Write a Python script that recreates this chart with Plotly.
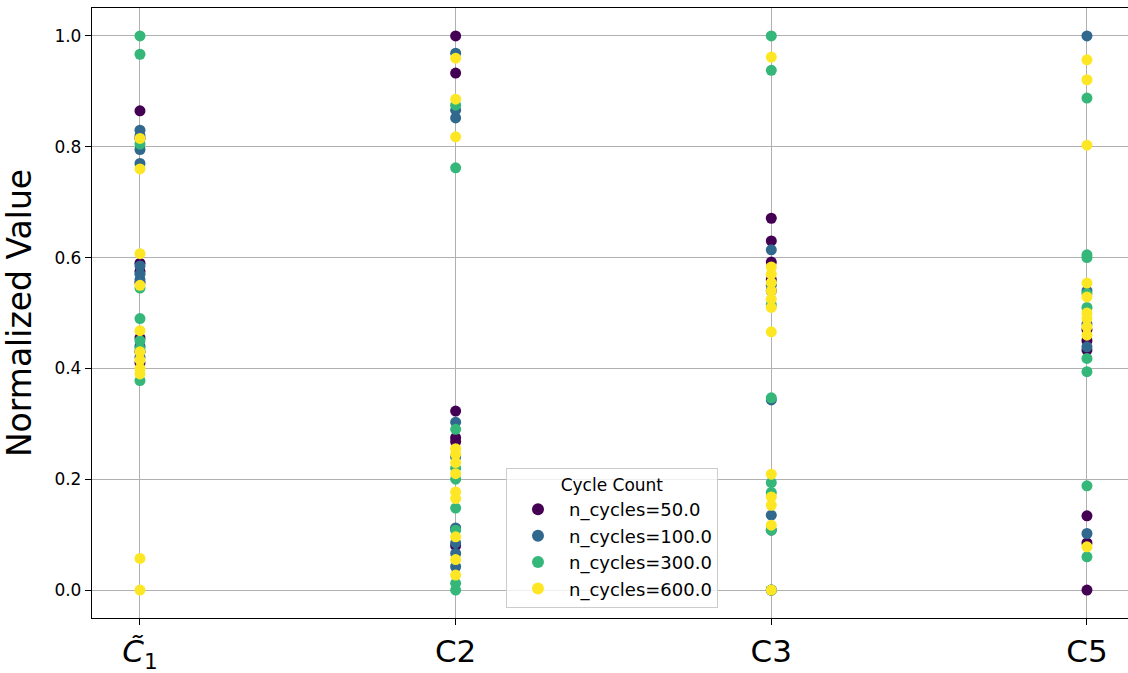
import plotly.graph_objects as go

# Metric categories along the x axis
categories = ["C̃1", "C2", "C3", "C5"]
tick_labels = ["<i>C̃</i><sub>1</sub>", "C2", "C3", "C5"]

# Normalized values per category, one list of lists per cycle count
cycles_50 = [
    [0.865, 0.815, 0.59, 0.575, 0.555, 0.455, 0.43, 0.41],
    [1.0, 0.933, 0.323, 0.275, 0.268, 0.11, 0.08],
    [0.671, 0.63, 0.592, 0.56, 0.54, 0.0],
    [0.47, 0.45, 0.433, 0.134, 0.085, 0.0],
]
cycles_100 = [
    [0.83, 0.82, 0.795, 0.77, 0.585, 0.57, 0.56, 0.44, 0.42],
    [0.969, 0.866, 0.852, 0.303, 0.24, 0.112, 0.085, 0.066, 0.042],
    [0.614, 0.55, 0.343, 0.135, 0.108, 0.0],
    [1.0, 0.54, 0.48, 0.439, 0.102],
]
cycles_300 = [
    [1.0, 0.967, 0.805, 0.545, 0.49, 0.45, 0.435, 0.378],
    [0.875, 0.762, 0.29, 0.22, 0.2, 0.148, 0.108, 0.012, 0.0],
    [1.0, 0.938, 0.515, 0.347, 0.194, 0.176, 0.108, 0.0],
    [0.888, 0.605, 0.6, 0.535, 0.51, 0.418, 0.394, 0.188, 0.06],
]
cycles_600 = [
    [0.815, 0.76, 0.607, 0.55, 0.468, 0.43, 0.415, 0.40, 0.39, 0.057, 0.0],
    [0.96, 0.886, 0.818, 0.255, 0.245, 0.23, 0.21, 0.177, 0.165, 0.096, 0.055, 0.027],
    [0.962, 0.583, 0.57, 0.555, 0.54, 0.525, 0.51, 0.466, 0.209, 0.168, 0.153, 0.117, 0.0],
    [0.957, 0.921, 0.803, 0.554, 0.529, 0.5, 0.49, 0.475, 0.46, 0.078],
]

series_names = ["n_cycles=50.0", "n_cycles=100.0", "n_cycles=300.0", "n_cycles=600.0"]
series_values = [cycles_50, cycles_100, cycles_300, cycles_600]
series_colors = ["#440154", "#31688e", "#35b779", "#fde725"]

y_ticks = [0.0, 0.2, 0.4, 0.6, 0.8, 1.0]

FONT = "DejaVu Sans, sans-serif"

fig = go.Figure()
for name, values, color in zip(series_names, series_values, series_colors):
    xs, ys = [], []
    for idx, vals in enumerate(values):
        xs.extend([idx] * len(vals))
        ys.extend(vals)
    fig.add_trace(go.Scatter(
        x=xs, y=ys, mode="markers", name=name,
        marker=dict(color=color, size=11, line=dict(width=0)),
    ))

fig.update_layout(
    width=1128, height=673,
    margin=dict(l=92, r=0, t=8, b=55),
    plot_bgcolor="white", paper_bgcolor="white",
    font=dict(family=FONT, color="black"),
    showlegend=True,
    legend=dict(
        title=dict(text="Cycle Count", side="top center", font=dict(size=17, family=FONT)),
        font=dict(size=18, family=FONT),
        x=0.3996, y=0.0164, xanchor="left", yanchor="bottom",
        bgcolor="rgba(255,255,255,0.8)", bordercolor="#cccccc", borderwidth=1,
        itemsizing="constant", itemwidth=52,
    ),
)

fig.update_xaxes(
    range=[-0.152, 3.13],
    tickvals=list(range(len(categories))), ticktext=tick_labels,
    tickfont=dict(size=31, family=FONT),
    showgrid=True, gridcolor="#b0b0b0", gridwidth=1.2,
    showline=True, linecolor="black", linewidth=1.3, mirror=True,
    ticks="outside", ticklen=6, tickcolor="black", tickwidth=1.2,
    zeroline=False,
)
fig.update_yaxes(
    range=[-0.0505, 1.0505],
    tickvals=y_ticks, tickformat=".1f",
    tickfont=dict(size=17, family=FONT),
    title=dict(text="Normalized Value", font=dict(size=33, family=FONT), standoff=14),
    showgrid=True, gridcolor="#b0b0b0", gridwidth=1.2,
    showline=True, linecolor="black", linewidth=1.3, mirror=False,
    ticks="outside", ticklen=6, tickcolor="black", tickwidth=1.2,
    zeroline=False,
)

fig.write_html("out.html")
